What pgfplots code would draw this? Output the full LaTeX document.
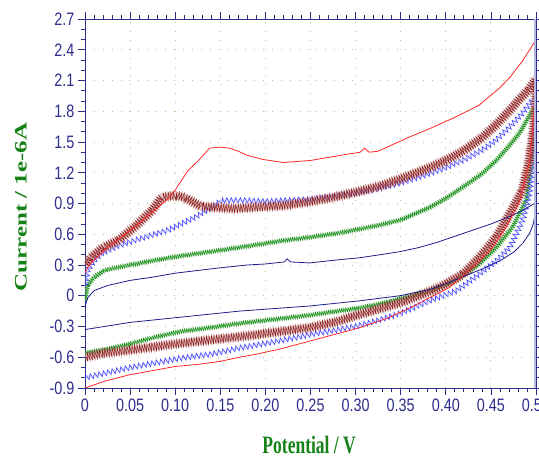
\documentclass[border=0pt]{standalone}
\usepackage{fontspec}
\usepackage{graphicx}
\usepackage{pgfplots}
\pgfplotsset{compat=1.18}
\usepackage{pgfplotstable}
\usetikzlibrary{decorations.pathmorphing}
\newfontfamily\tickfont{Liberation Sans}[FakeStretch=0.8]
\newfontfamily\labfont{Liberation Serif}[FakeStretch=0.7]
\newfontfamily\ylabfont{Liberation Serif}
\definecolor{axisnavy}{RGB}{45,45,140}
\definecolor{gridcol}{RGB}{185,195,135}
\definecolor{rightband}{RGB}{180,185,225}
\definecolor{cvred}{RGB}{255,40,40}
\definecolor{cvdarkred}{RGB}{140,30,30}
\definecolor{cvdarkredband}{RGB}{200,140,140}
\definecolor{cvblue}{RGB}{60,60,255}
\definecolor{cvblueband}{RGB}{160,160,255}
\definecolor{cvgreen}{RGB}{20,140,20}
\definecolor{cvgreenband}{RGB}{140,205,140}
\definecolor{cvnavy}{RGB}{30,30,140}
\definecolor{labgreen}{RGB}{20,130,20}

\pgfplotstableread{
x y
0 0.22
0.003 0.28
0.01 0.35
0.025 0.47
0.055 0.67
0.075 0.82
0.09 0.93
0.1 1.03
0.114 1.22
0.127 1.33
0.138 1.44
0.15 1.45
0.16 1.44
0.17 1.41
0.18 1.37
0.197 1.33
0.22 1.30
0.25 1.32
0.27 1.35
0.29 1.38
0.305 1.40
0.31 1.44
0.315 1.40
0.325 1.41
0.34 1.47
0.36 1.55
0.382 1.63
0.41 1.74
0.437 1.86
0.46 2.03
0.471 2.13
0.485 2.29
0.498 2.47
0.5 2.40
0.5 2.20
0.498 1.81
0.493 1.32
0.482 0.93
0.467 0.67
0.449 0.44
0.426 0.25
0.404 0.08
0.382 -0.02
0.36 -0.12
0.335 -0.22
0.305 -0.31
0.28 -0.37
0.25 -0.44
0.216 -0.52
0.19 -0.57
0.171 -0.60
0.15 -0.64
0.125 -0.67
0.1 -0.69
0.075 -0.73
0.05 -0.77
0.023 -0.83
0 -0.90
}\redcv

\pgfplotstableread{
x y
0 0.30
0.005 0.36
0.02 0.47
0.037 0.54
0.055 0.67
0.074 0.83
0.085 0.96
0.1 0.98
0.11 0.96
0.129 0.87
0.147 0.86
0.166 0.85
0.2 0.87
0.221 0.88
0.25 0.92
0.275 0.96
0.3 1.01
0.327 1.07
0.35 1.14
0.382 1.25
0.40 1.32
0.419 1.41
0.44 1.54
0.456 1.67
0.47 1.80
0.482 1.92
0.492 2.01
0.5 2.11
0.5 1.95
0.497 1.60
0.492 1.30
0.485 1.03
0.471 0.80
0.456 0.57
0.437 0.37
0.419 0.21
0.393 0.08
0.37 0.00
0.349 -0.07
0.325 -0.13
0.305 -0.18
0.28 -0.25
0.25 -0.31
0.216 -0.35
0.171 -0.40
0.13 -0.44
0.1 -0.47
0.05 -0.53
0.02 -0.56
0 -0.60
}\darkredcv

\pgfplotstableread{
x y
0 0.08
0.003 0.25
0.01 0.34
0.018 0.41
0.035 0.48
0.055 0.54
0.092 0.64
0.121 0.76
0.14 0.86
0.151 0.93
0.18 0.93
0.2 0.92
0.221 0.93
0.25 0.94
0.275 0.97
0.3 1.00
0.327 1.05
0.35 1.10
0.371 1.16
0.382 1.19
0.40 1.25
0.419 1.32
0.44 1.42
0.456 1.52
0.47 1.64
0.485 1.78
0.496 1.91
0.5 1.93
0.5 1.88
0.498 1.50
0.496 1.25
0.493 1.00
0.485 0.73
0.471 0.47
0.456 0.34
0.437 0.21
0.412 0.05
0.382 -0.05
0.35 -0.17
0.325 -0.24
0.304 -0.29
0.275 -0.34
0.249 -0.38
0.21 -0.45
0.171 -0.51
0.14 -0.57
0.105 -0.61
0.075 -0.66
0.05 -0.70
0.025 -0.75
0 -0.80
}\bluecv

\pgfplotstableread{
x y
0 -0.05
0.003 0.10
0.01 0.18
0.022 0.25
0.05 0.30
0.074 0.34
0.1 0.38
0.147 0.44
0.185 0.49
0.221 0.54
0.249 0.57
0.28 0.61
0.304 0.65
0.327 0.69
0.35 0.74
0.382 0.86
0.4 0.95
0.419 1.06
0.44 1.19
0.456 1.32
0.47 1.46
0.482 1.59
0.496 1.81
0.5 1.84
0.5 1.80
0.497 1.40
0.493 1.15
0.489 0.93
0.474 0.67
0.456 0.47
0.437 0.31
0.412 0.15
0.382 0.05
0.349 -0.03
0.327 -0.08
0.304 -0.12
0.28 -0.15
0.249 -0.19
0.21 -0.23
0.171 -0.27
0.14 -0.31
0.105 -0.35
0.075 -0.41
0.05 -0.47
0.025 -0.52
0 -0.56
}\greencv

\pgfplotstableread{
x y
0 -0.11
0.003 -0.02
0.01 0.05
0.025 0.10
0.05 0.15
0.074 0.18
0.1 0.22
0.147 0.27
0.18 0.30
0.2 0.31
0.221 0.33
0.224 0.36
0.228 0.33
0.249 0.32
0.28 0.35
0.304 0.37
0.327 0.40
0.349 0.43
0.37 0.47
0.39 0.52
0.41 0.58
0.43 0.64
0.45 0.70
0.47 0.77
0.485 0.83
0.5 0.91
0.499 0.80
0.497 0.70
0.493 0.61
0.486 0.52
0.476 0.43
0.46 0.34
0.44 0.26
0.42 0.19
0.404 0.13
0.382 0.06
0.349 0.00
0.304 -0.05
0.249 -0.10
0.171 -0.15
0.105 -0.21
0.05 -0.26
0 -0.33
}\navycv

\begin{document}
\begin{tikzpicture}
\begin{axis}[
  name=ax, at={(0,0)}, anchor=south west,
  scale only axis, width=451pt, height=369pt,
  xmin=0, xmax=0.5, ymin=-0.9, ymax=2.7,
  xtick={0,0.05,0.1,0.15,0.2,0.25,0.3,0.35,0.4,0.45,0.5},
  xticklabels={0,0.05,0.10,0.15,0.20,0.25,0.30,0.35,0.40,0.45,0.50},
  ytick={-0.9,-0.6,-0.3,0,0.3,0.6,0.9,1.2,1.5,1.8,2.1,2.4,2.7},
  yticklabels={-0.9,-0.6,-0.3,0,0.3,0.6,0.9,1.2,1.5,1.8,2.1,2.4,2.7},
  minor x tick num=4, minor y tick num=2,
  tick align=outside, tick pos=both,
  major tick length=7pt, minor tick length=4pt,
  every tick/.style={axisnavy, line width=0.7pt},
  axis line style={axisnavy, line width=0.9pt},
  grid=major,
  grid style={gridcol, line width=0.9pt, dash pattern=on 0.9pt off 8pt},
  tick label style={font=\tickfont\fontsize{18}{18}\selectfont, text=axisnavy},
  /pgf/number format/assume math mode=true,
  xlabel={\labfont\bfseries Potential / V},
  ylabel={\scalebox{1}[0.7]{\ylabfont\bfseries Current / 1e-6A}},
  x label style={at={(axis description cs:0.497,-0.178)}, anchor=base,
    font=\fontsize{25}{25}\selectfont, text=labgreen},
  y label style={at={(axis description cs:-0.142,0.49)}, anchor=center,
    font=\fontsize{25}{25}\selectfont, text=labgreen},
]
% green
\addplot[cvgreenband, line width=4pt, opacity=0.45] table {\greencv};
\addplot[cvgreen, line width=0.5pt, decorate,
  decoration={zigzag, segment length=2.2pt, amplitude=2pt}] table {\greencv};
% blue
\addplot[cvblueband, line width=3pt, opacity=0.25] table {\bluecv};
\addplot[cvblue, line width=0.55pt, decorate,
  decoration={zigzag, segment length=4.5pt, amplitude=2.8pt}] table {\bluecv};
% dark red
\addplot[cvdarkredband, line width=8pt, opacity=0.5] table {\darkredcv};
\addplot[cvdarkred, line width=0.5pt, decorate,
  decoration={zigzag, segment length=2.5pt, amplitude=4pt}] table {\darkredcv};
% navy
\addplot[cvnavy, line width=0.8pt] table {\navycv};
% red
\addplot[cvred, line width=0.8pt] table {\redcv};
\draw[rightband, line width=4pt] (rel axis cs:1,0) -- (rel axis cs:1,1);
\end{axis}
\pgfresetboundingbox
\path (-85pt,-72pt) rectangle (454pt,388pt);
\end{tikzpicture}
\end{document}
